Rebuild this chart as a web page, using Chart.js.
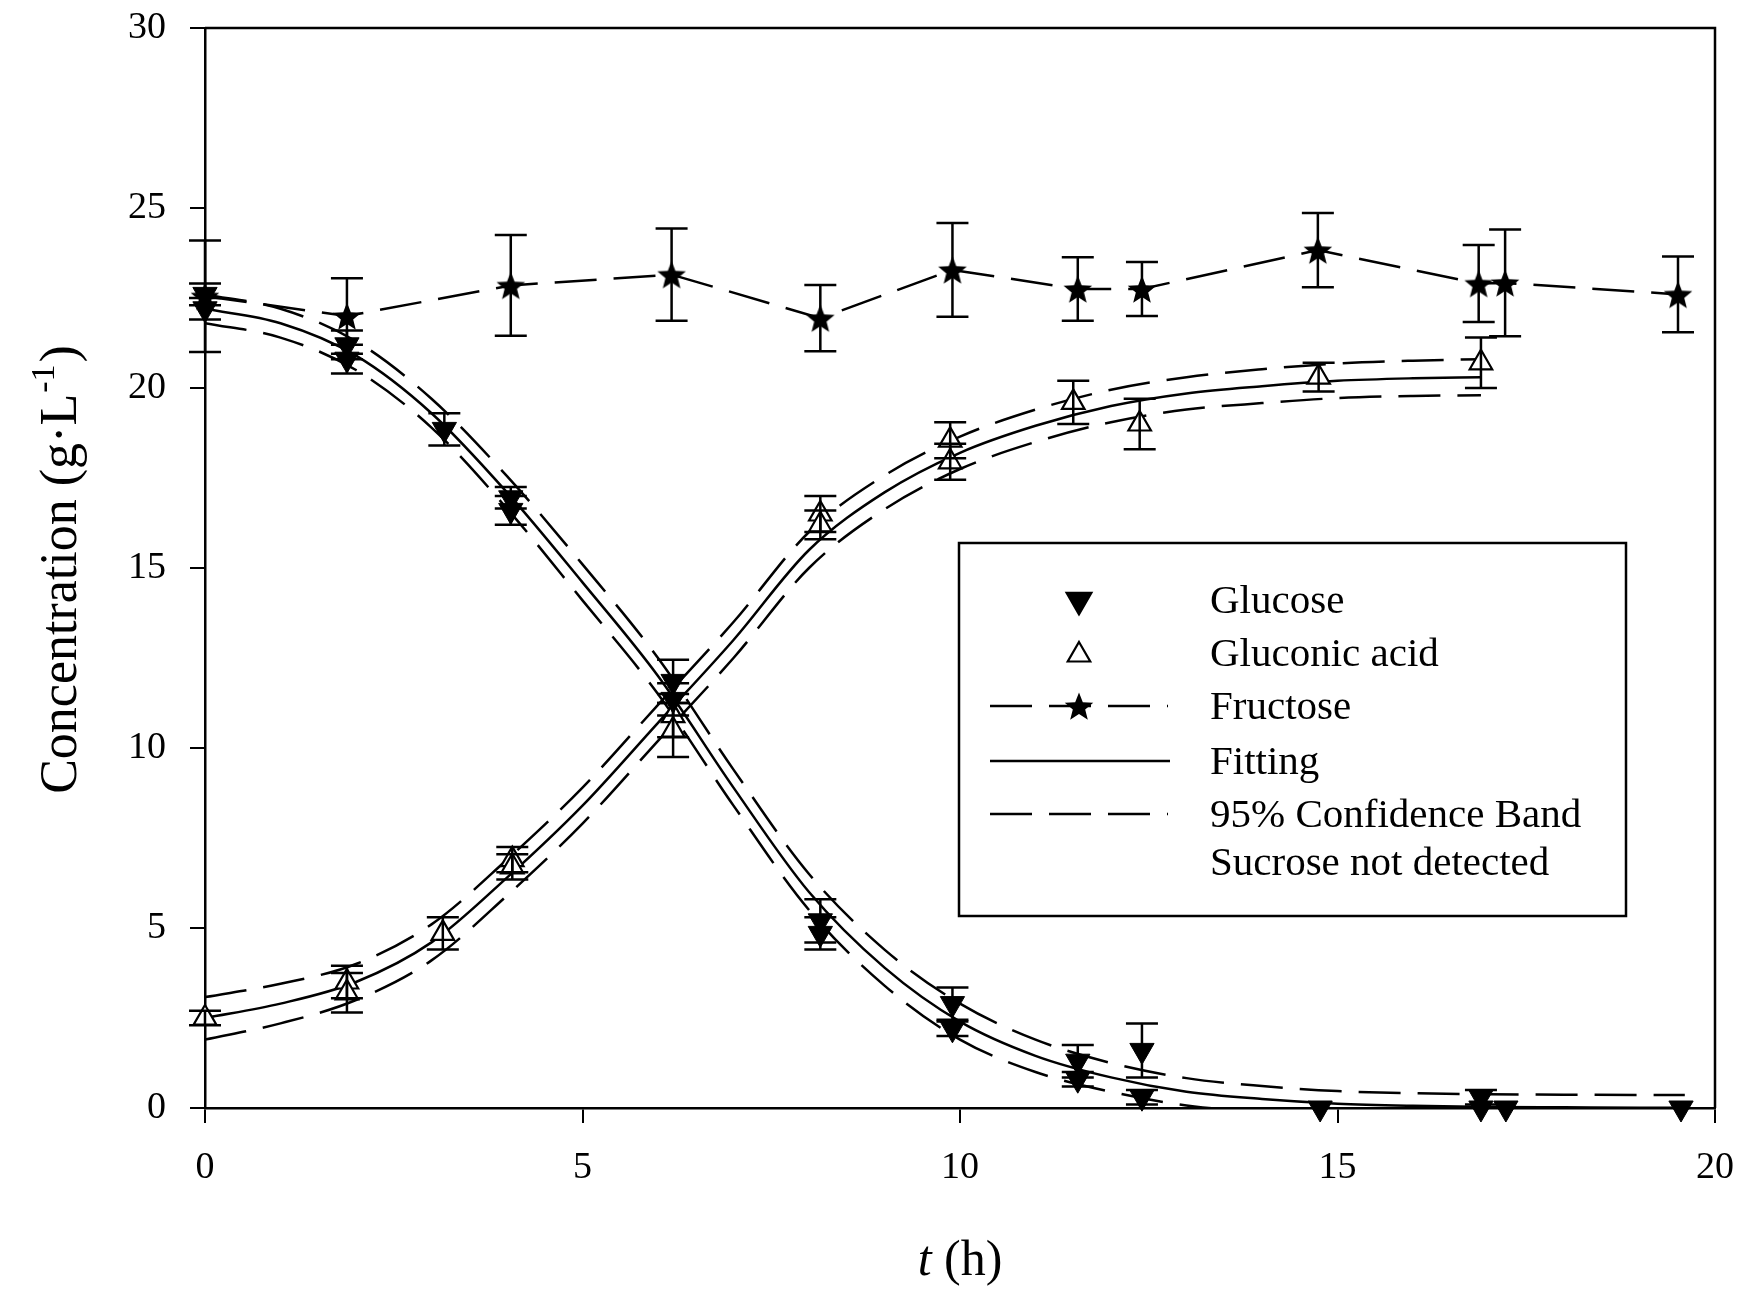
<!DOCTYPE html>
<html>
<head>
<meta charset="utf-8">
<title>Glucose, gluconic acid and fructose</title>
<script src="https://cdn.jsdelivr.net/npm/chart.js@4.4.1/dist/chart.umd.min.js"></script>
<style>
  html, body { margin: 0; padding: 0; background: #fff; }
  canvas { display: block; }
</style>
</head>
<body>
<canvas id="conc" width="1739" height="1291"></canvas>
<script>
// measured points, t in h, concentration in g/L (replicates share a time)
const glucoseT   = [0, 0, 1.88, 1.88, 3.17, 4.05, 4.05, 6.2, 6.2, 8.15, 8.15, 9.9, 9.9, 11.56, 11.56, 12.41, 12.41, 14.77, 16.9, 16.9, 17.23, 19.55];
const glucoseC   = [22.6, 22.2, 21.2, 20.8, 18.85, 16.95, 16.6, 11.85, 11.35, 5.2, 4.85, 2.9, 2.2, 1.3, 0.8, 1.6, 0.3, 0.0, 0.3, 0.0, 0.0, 0.0];
const glucoseErr = [0.3, 0.3, 0.4, 0.4, 0.45, 0.3, 0.4, 0.6, 0.45, 0.6, 0.45, 0.45, 0.2, 0.45, 0.2, 0.75, 0.2, 0, 0.2, 0, 0, 0];

const gluconicT   = [0, 1.88, 1.88, 3.15, 4.07, 4.07, 6.2, 6.2, 8.15, 8.15, 9.87, 9.87, 11.5, 12.38, 14.75, 16.9];
const gluconicC   = [2.5, 3.5, 3.2, 4.85, 6.9, 6.7, 10.9, 10.5, 16.5, 16.2, 18.55, 17.95, 19.6, 19.0, 20.3, 20.7];
const gluconicErr = [0.2, 0.45, 0.55, 0.45, 0.35, 0.35, 0.6, 0.75, 0.5, 0.4, 0.5, 0.5, 0.6, 0.7, 0.4, 0.7];

const fructoseT   = [0, 1.88, 4.05, 6.18, 8.15, 9.9, 11.56, 12.41, 14.74, 16.87, 17.22, 19.51];
const fructoseC   = [22.55, 22.0, 22.85, 23.15, 21.94, 23.28, 22.75, 22.75, 23.83, 22.9, 22.92, 22.6];
const fructoseErr = [1.55, 1.05, 1.4, 1.28, 0.92, 1.3, 0.88, 0.75, 1.03, 1.07, 1.48, 1.05];

// fitted curves and 95% confidence bands
const gluFitT   = [0, 1, 2, 3, 4, 5, 6, 7, 8, 9, 10, 11, 12, 13, 14, 15, 16, 17, 18, 19, 19.6];
const gluFit    = [22.2, 21.8, 20.9, 19.3, 17.1, 14.6, 12.0, 8.9, 6.0, 3.9, 2.4, 1.45, 0.85, 0.45, 0.25, 0.12, 0.06, 0.03, 0.02, 0.01, 0.01];
const gluUpper  = [22.6, 22.2, 21.3, 19.7, 17.55, 15.1, 12.5, 9.4, 6.5, 4.4, 2.9, 1.9, 1.25, 0.83, 0.61, 0.47, 0.41, 0.38, 0.37, 0.36, 0.36];
const gluLower  = [21.8, 21.4, 20.5, 18.9, 16.65, 14.1, 11.5, 8.4, 5.5, 3.4, 1.9, 1.0, 0.45, 0.07, -0.11, -0.23, -0.29, -0.32, -0.33, -0.34, -0.34];

const gacFitT   = [0, 1, 2, 3, 4, 5, 6, 7, 8, 9, 10, 11, 12, 13, 14, 15, 16, 16.9];
const gacFit    = [2.5, 2.9, 3.5, 4.6, 6.4, 8.4, 10.7, 13.0, 15.5, 17.1, 18.2, 18.95, 19.5, 19.85, 20.05, 20.2, 20.27, 20.3];
const gacUpper  = [3.08, 3.45, 4.0, 5.1, 6.9, 8.9, 11.2, 13.5, 16.0, 17.57, 18.65, 19.4, 19.95, 20.3, 20.52, 20.68, 20.76, 20.8];
const gacLower  = [1.9, 2.35, 3.0, 4.1, 5.9, 7.9, 10.2, 12.5, 15.0, 16.63, 17.75, 18.5, 19.05, 19.4, 19.58, 19.72, 19.78, 19.8];

const xTicks = [0, 5, 10, 15, 20];
const yTicks = [0, 5, 10, 15, 20, 25, 30];

const legendLabels = ['Glucose', 'Gluconic acid', 'Fructose', 'Fitting', '95% Confidence Band', 'Sucrose not detected'];

const serif = '"Liberation Serif", "Times New Roman", serif';
const dash = [42, 17];

function pts(xs, ys) {
  return xs.map((x, i) => ({ x: x, y: ys[i] }));
}

// filled five-pointed star for fructose markers
function makeStar(outer, inner) {
  const size = Math.ceil(outer * 2 + 2);
  const c = document.createElement('canvas');
  c.width = size; c.height = size;
  const g = c.getContext('2d');
  g.beginPath();
  for (let i = 0; i < 10; i++) {
    const r = i % 2 ? inner : outer;
    const a = -Math.PI / 2 + i * Math.PI / 5;
    const px = size / 2 + r * Math.cos(a), py = size / 2 + 1.5 + r * Math.sin(a);
    if (i) g.lineTo(px, py); else g.moveTo(px, py);
  }
  g.closePath();
  g.fillStyle = '#000';
  g.fill();
  return c;
}
const star = makeStar(15, 6.5);

const markerGlucose  = { pointStyle: 'triangle', radius: 14, rotation: 180, borderWidth: 1 };
const markerGluconic = { pointStyle: 'triangle', radius: 13, rotation: 0, borderWidth: 2.2 };

// vertical error bars with caps
const errorBars = {
  id: 'errorBars',
  afterDatasetsDraw(chart) {
    const ctx = chart.ctx, xs = chart.scales.x, ys = chart.scales.y;
    ctx.save();
    ctx.strokeStyle = '#000';
    ctx.lineWidth = 2.5;
    chart.data.datasets.forEach(ds => {
      if (!ds.errors) return;
      ds.data.forEach((p, i) => {
        const e = ds.errors[i];
        if (!e) return;
        const px = xs.getPixelForValue(p.x);
        const top = ys.getPixelForValue(p.y + e);
        const bot = ys.getPixelForValue(p.y - e);
        ctx.beginPath();
        ctx.moveTo(px, top); ctx.lineTo(px, bot);
        ctx.moveTo(px - 16, top); ctx.lineTo(px + 16, top);
        ctx.moveTo(px - 16, bot); ctx.lineTo(px + 16, bot);
        ctx.stroke();
      });
    });
    ctx.restore();
  }
};

// white page, frame, axis titles and the boxed legend
const decorations = {
  id: 'decorations',
  beforeDraw(chart) {
    const ctx = chart.ctx;
    ctx.save();
    ctx.fillStyle = '#fff';
    ctx.fillRect(0, 0, chart.width, chart.height);
    ctx.restore();
  },
  afterDraw(chart) {
    const ctx = chart.ctx, a = chart.chartArea;
    ctx.save();
    ctx.strokeStyle = '#000';
    ctx.lineWidth = 2.5;
    ctx.beginPath();
    ctx.moveTo(a.left, a.top); ctx.lineTo(a.right, a.top); ctx.lineTo(a.right, a.bottom);
    ctx.stroke();

    // y title with superscript
    ctx.fillStyle = '#000';
    ctx.translate(58, (a.top + a.bottom) / 2 + 3);
    ctx.rotate(-Math.PI / 2);
    const big = '52px ' + serif, small = '34px ' + serif;
    const p1 = 'Concentration (g\u00b7L', p2 = '-1', p3 = ')';
    ctx.font = big; const w1 = ctx.measureText(p1).width, w3 = ctx.measureText(p3).width;
    ctx.font = small; const w2 = ctx.measureText(p2).width;
    let x0 = -(w1 + w2 + w3) / 2;
    ctx.textBaseline = 'alphabetic';
    ctx.font = big; ctx.fillText(p1, x0, 18);
    ctx.font = small; ctx.fillText(p2, x0 + w1 + 1, -4);
    ctx.font = big; ctx.fillText(p3, x0 + w1 + w2 + 3, 18);
    ctx.restore();

    // x title
    ctx.save();
    ctx.fillStyle = '#000';
    ctx.textBaseline = 'middle';
    const it = 'italic 50px ' + serif, rg = '50px ' + serif;
    ctx.font = it; const wt = ctx.measureText('t').width;
    ctx.font = rg; const wh = ctx.measureText(' (h)').width;
    const cx = (a.left + a.right) / 2 - (wt + wh) / 2;
    ctx.font = it; ctx.fillText('t', cx, 1262);
    ctx.font = rg; ctx.fillText(' (h)', cx + wt, 1262);
    ctx.restore();

    // legend
    ctx.save();
    ctx.strokeStyle = '#000';
    ctx.fillStyle = '#fff';
    ctx.lineWidth = 2.5;
    ctx.fillRect(959, 543, 667, 373);
    ctx.strokeRect(959, 543, 667, 373);
    const rows = [600, 653, 706, 761, 814, 862];
    const symX = 1079, lx0 = 990, lx1 = 1168;
    ctx.fillStyle = '#000';
    ctx.font = '41px ' + serif;
    ctx.textBaseline = 'middle';
    legendLabels.forEach((t, i) => ctx.fillText(t, 1210, rows[i] + 2));

    ctx.fillStyle = '#000';
    Chart.helpers.drawPoint(ctx, markerGlucose, symX, rows[0]);
    ctx.fillStyle = '#fff';
    ctx.lineWidth = 2.2;
    Chart.helpers.drawPoint(ctx, markerGluconic, symX, rows[1] + 2);

    ctx.lineWidth = 2.5;
    ctx.setLineDash(dash);
    ctx.beginPath(); ctx.moveTo(lx0, rows[2]); ctx.lineTo(lx1, rows[2]); ctx.stroke();
    ctx.drawImage(star, symX - star.width / 2, rows[2] - star.height / 2);
    ctx.beginPath(); ctx.moveTo(lx0, rows[4]); ctx.lineTo(lx1, rows[4]); ctx.stroke();
    ctx.setLineDash([]);
    ctx.beginPath(); ctx.moveTo(lx0, rows[3]); ctx.lineTo(lx1 + 2, rows[3]); ctx.stroke();
    ctx.restore();
  }
};

const lineBase = { showLine: true, pointRadius: 0, borderColor: '#000', borderWidth: 2.5, fill: false };

new Chart(document.getElementById('conc'), {
  type: 'scatter',
  data: {
    datasets: [
      { label: 'Glucose', data: pts(glucoseT, glucoseC), errors: glucoseErr, clip: false,
        pointStyle: 'triangle', pointRotation: 180, pointRadius: 14, pointBackgroundColor: '#000',
        pointBorderColor: '#000', pointBorderWidth: 1 },
      { label: 'Gluconic acid', data: pts(gluconicT, gluconicC), errors: gluconicErr, clip: false,
        pointStyle: 'triangle', pointRadius: 13, pointBackgroundColor: '#fff',
        pointBorderColor: '#000', pointBorderWidth: 2.2 },
      { label: 'Fructose', data: pts(fructoseT, fructoseC), errors: fructoseErr, clip: false,
        showLine: true, borderColor: '#000', borderWidth: 2.5, borderDash: dash,
        pointStyle: star, pointRadius: 15 },
      Object.assign({ label: 'Glucose fit', data: pts(gluFitT, gluFit), cubicInterpolationMode: 'monotone' }, lineBase),
      Object.assign({ label: 'Gluconic acid fit', data: pts(gacFitT, gacFit), cubicInterpolationMode: 'monotone' }, lineBase),
      Object.assign({ label: 'Glucose band upper', data: pts(gluFitT, gluUpper), cubicInterpolationMode: 'monotone', borderDash: dash }, lineBase),
      Object.assign({ label: 'Glucose band lower', data: pts(gluFitT, gluLower), cubicInterpolationMode: 'monotone', borderDash: dash }, lineBase),
      Object.assign({ label: 'Gluconic band upper', data: pts(gacFitT, gacUpper), cubicInterpolationMode: 'monotone', borderDash: dash }, lineBase),
      Object.assign({ label: 'Gluconic band lower', data: pts(gacFitT, gacLower), cubicInterpolationMode: 'monotone', borderDash: dash }, lineBase)
    ]
  },
  options: {
    responsive: false,
    animation: false,
    devicePixelRatio: 1,
    layout: { padding: { left: 0, top: 28, right: 24, bottom: 0 } },
    plugins: { legend: { display: false }, tooltip: { enabled: false } },
    scales: {
      x: {
        type: 'linear', min: 0, max: 20,
        afterBuildTicks: s => { s.ticks = xTicks.map(v => ({ value: v })); },
        afterFit: s => { s.height = 183; s.paddingLeft = 0; s.paddingRight = 0; },
        border: { display: true, color: '#000', width: 2.5 },
        grid: { drawOnChartArea: false, drawTicks: true, tickLength: 15, color: '#000', lineWidth: 2 },
        ticks: { color: '#000', padding: 22, maxRotation: 0, font: { family: serif, size: 38 } }
      },
      y: {
        type: 'linear', min: 0, max: 30,
        afterBuildTicks: s => { s.ticks = yTicks.map(v => ({ value: v })); },
        afterFit: s => { s.width = 205; s.paddingTop = 0; s.paddingBottom = 0; },
        border: { display: true, color: '#000', width: 2.5 },
        grid: { drawOnChartArea: false, drawTicks: true, tickLength: 15, color: '#000', lineWidth: 2 },
        ticks: { color: '#000', padding: 24, font: { family: serif, size: 38 } }
      }
    }
  },
  plugins: [errorBars, decorations]
});
</script>
</body>
</html>
